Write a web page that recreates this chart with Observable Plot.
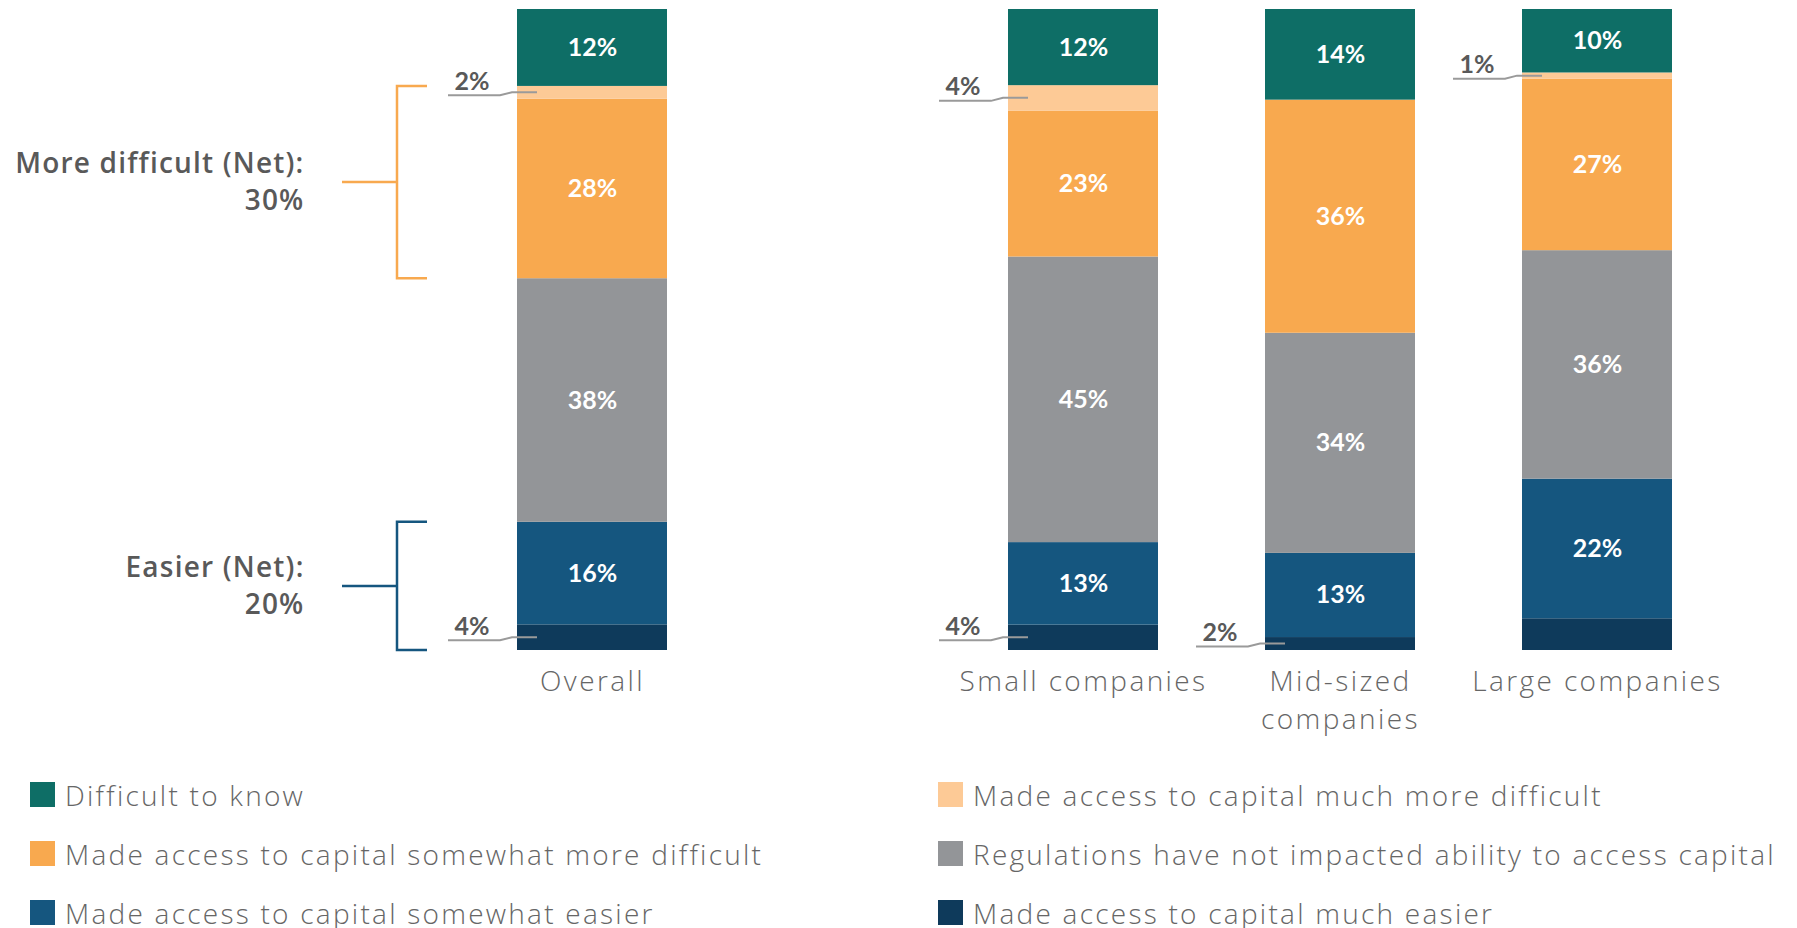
<!DOCTYPE html>
<html>
<head>
<meta charset="utf-8">
<script src="https://cdn.jsdelivr.net/npm/d3@7"></script>
<script src="https://cdn.jsdelivr.net/npm/@observablehq/plot@0.6"></script>
<style>
  html, body { margin: 0; padding: 0; background: #fff; overflow: hidden; }
  body { font-family: "Open Sans", Lato, sans-serif; width: 1797px; height: 928px; }
  #charts { display: flex; align-items: flex-start; }
  #charts g[aria-label="x-axis tick label"] text { letter-spacing: 2.4px; }
  #charts g[font-weight="600"] text { letter-spacing: 1.2px; }
  #legend { display: grid; grid-template-columns: 908px 1fr; padding-left: 30px; margin-top: 15px; }
  .item { display: flex; align-items: center; height: 59px; }
  .sw { width: 25px; height: 25px; flex: none; margin-right: 10px; }
  .lab { font-size: 28px; font-weight: 300; color: #666; white-space: nowrap; line-height: 1; letter-spacing: 2.25px; }
</style>
</head>
<body>
<div id="charts"></div>
<div id="legend"></div>
<script>
// ---- data ----
const groups = ["Overall", "Small companies", "Mid-sized companies", "Large companies"];
const tickLabels = ["Overall", "Small companies", "Mid-sized\ncompanies", "Large companies"];
// series, bottom of the stack first
const seriesNames = [
  "Made access to capital much easier",
  "Made access to capital somewhat easier",
  "Regulations have not impacted ability to access capital",
  "Made access to capital somewhat more difficult",
  "Made access to capital much more difficult",
  "Difficult to know"
];
const muchEasier            = [4, 4, 2, 5];
const somewhatEasier        = [16, 13, 13, 22];
const notImpacted           = [38, 45, 34, 36];
const somewhatMoreDifficult = [28, 23, 36, 27];
const muchMoreDifficult     = [2, 4, 0, 1];
const difficultToKnow       = [12, 12, 14, 10];
const seriesColors = ["#0e3a5b", "#15567f", "#939598", "#f8a94f", "#fdca96", "#0e6e66"];
const legendOrder = [
  "Difficult to know",
  "Made access to capital much more difficult",
  "Made access to capital somewhat more difficult",
  "Regulations have not impacted ability to access capital",
  "Made access to capital somewhat easier",
  "Made access to capital much easier"
];

const seriesValues = [muchEasier, somewhatEasier, notImpacted, somewhatMoreDifficult, muchMoreDifficult, difficultToKnow];
const rows = [];
groups.forEach((g, i) => seriesValues.forEach((vals, j) =>
  rows.push({group: g, series: seriesNames[j], value: vals[i], gi: i, si: j})));

const totalOf = i => seriesValues.reduce((s, a) => s + a[i], 0);
const cumBelow = (i, j) => seriesValues.slice(0, j).reduce((s, a) => s + a[i], 0) / totalOf(i);

const INK = "#595959";
const LEADER = "#9a9a9a";
const NUMFONT = "Lato, 'Open Sans', sans-serif";

function linesMark(groupIdx, withBrackets) {
  return (index, scales) => {
    const g = d3.create("svg:g").attr("fill", "none");
    groupIdx.forEach(i => {
      seriesValues.forEach((vals, j) => {
        const v = vals[i];
        if (!(v > 0 && v < 5)) return;
        const mid = cumBelow(i, j) + v / totalOf(i) / 2;
        const x0 = scales.x(groups[i]);
        const y = scales.y(mid);
        g.append("path")
          .attr("d", `M${x0 - 69},${y + 3}H${x0 - 17}L${x0 - 5},${y}H${x0 + 20}`)
          .attr("stroke", LEADER).attr("stroke-width", 2);
      });
    });
    if (withBrackets) {
      const i = 0;
      const x0 = scales.x(groups[i]);
      const brackets = [
        {lo: cumBelow(i, 3), hi: cumBelow(i, 5), color: seriesColors[3]},
        {lo: 0, hi: cumBelow(i, 2), color: seriesColors[1]}
      ];
      brackets.forEach(b => {
        const yT = scales.y(b.hi), yB = scales.y(b.lo), yM = (yT + yB) / 2;
        g.append("path")
          .attr("d", `M${x0 - 90},${yT}H${x0 - 120}V${yB}H${x0 - 90}M${x0 - 120},${yM}H${x0 - 175}`)
          .attr("stroke", b.color).attr("stroke-width", 2.5);
      });
    }
    return g.node();
  };
}

function makePlot(groupIdx, cfg) {
  const data = rows.filter(d => groupIdx.includes(d.gi));
  const marks = [
    Plot.barY(data, Plot.stackY({x: "group", y: "value", z: "series", fill: "series", offset: "normalize"})),
    Plot.text(data, Plot.stackY({
      x: "group", y: "value", z: "series", offset: "normalize",
      text: d => d.value >= 10 ? d.value + "%" : null,
      fill: "white", fontWeight: "bold", fontSize: 25, fontFamily: NUMFONT
    })),
    Plot.text(data, Plot.stackY({
      x: "group", y: "value", z: "series", offset: "normalize",
      text: d => (d.value > 0 && d.value < 5) ? d.value + "%" : null,
      fill: INK, fontWeight: "bold", fontSize: 25, fontFamily: NUMFONT,
      textAnchor: "start", dx: -138, dy: -11
    })),
    Plot.axisX({
      label: null, tickSize: 0, tickPadding: 13, fontSize: 28, fontWeight: 300, lineHeight: 1.36,
      tickFormat: d => tickLabels[groups.indexOf(d)]
    }),
    linesMark(groupIdx, cfg.brackets)
  ];
  if (cfg.brackets) {
    const i = 0;
    const netMore = somewhatMoreDifficult[i] + muchMoreDifficult[i];
    const netEasy = somewhatEasier[i] + muchEasier[i];
    const netRows = [
      {group: groups[i], y: (cumBelow(i, 3) + cumBelow(i, 5)) / 2, text: `More difficult (Net):\n${netMore}%`},
      {group: groups[i], y: cumBelow(i, 2) / 2, text: `Easier (Net):\n${netEasy}%`}
    ];
    marks.push(Plot.text(netRows, {
      x: "group", y: "y", text: "text", textAnchor: "end", lineAnchor: "middle",
      dx: -288, dy: -3, fontSize: 28, fontWeight: 600, lineHeight: 37 / 28, fill: INK
    }));
  }
  return Plot.plot({
    width: cfg.width, height: 750,
    marginTop: 9, marginBottom: 100, marginLeft: cfg.ml, marginRight: cfg.mr,
    style: {fontFamily: "'Open Sans', Lato, sans-serif", color: "#666", background: "white"},
    x: {domain: groupIdx.map(i => groups[i]), padding: cfg.padding, axis: null},
    y: {domain: [0, 1], axis: null},
    color: {domain: seriesNames, range: seriesColors},
    marks
  });
}

const charts = document.getElementById("charts");
charts.append(makePlot([0], {width: 760, ml: 517, mr: 93, padding: 0, brackets: true}));
charts.append(makePlot([1, 2, 3], {width: 1037, ml: 141, mr: 18, padding: 0.416, brackets: false}));

const legend = document.getElementById("legend");
legendOrder.forEach(name => {
  const item = document.createElement("div");
  item.className = "item";
  const sw = document.createElement("div");
  sw.className = "sw";
  sw.style.background = seriesColors[seriesNames.indexOf(name)];
  const lab = document.createElement("span");
  lab.className = "lab";
  lab.textContent = name;
  item.append(sw, lab);
  legend.append(item);
});
</script>
</body>
</html>
